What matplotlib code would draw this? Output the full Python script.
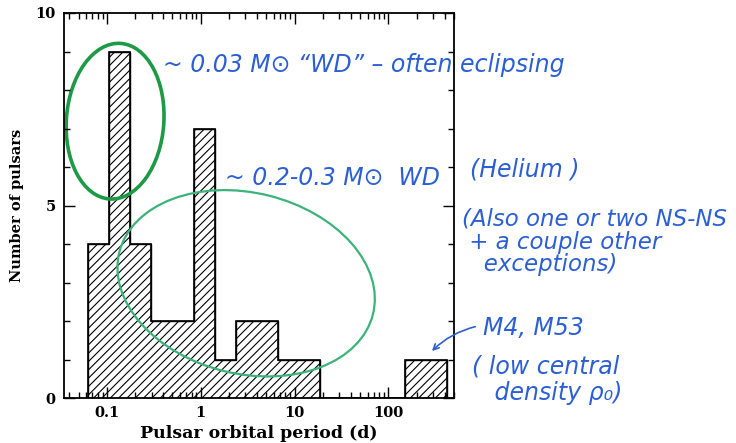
import numpy as np
import matplotlib.pyplot as plt
from matplotlib.patches import Ellipse
from matplotlib.ticker import LogLocator, NullFormatter, MultipleLocator, FixedLocator, FixedFormatter

# histogram (orbital period in days)
bin_edges = [0.063, 0.106, 0.178, 0.299, 0.84, 1.41, 2.37, 6.7, 18.8, 150, 422]
counts = [4, 9, 4, 2, 7, 1, 2, 1, 0, 1]

xticks = [0.1, 1, 10, 100]
xtick_labels = ["0.1", "1", "10", "100"]
yticks = [0, 5, 10]

W, H = 736, 443
plt.rcParams['hatch.linewidth'] = 0.8
fig = plt.figure(figsize=(W / 100, H / 100), dpi=100)
ax = fig.add_axes([64 / W, (H - 398) / H, 390 / W, 385 / H])

ax.stairs(counts, bin_edges, fill=True, facecolor="white", edgecolor="black",
          hatch="////", linewidth=1.0)
ax.stairs(counts, bin_edges, fill=False, edgecolor="black", linewidth=1.2)

ax.set_xscale("log")
ax.set_xlim(0.035, 500)
ax.set_ylim(0, 10)

ax.xaxis.set_major_locator(FixedLocator(xticks))
ax.xaxis.set_major_formatter(FixedFormatter(xtick_labels))
ax.xaxis.set_minor_locator(LogLocator(base=10, subs=np.arange(2, 10)))
ax.xaxis.set_minor_formatter(NullFormatter())
ax.yaxis.set_major_locator(FixedLocator(yticks))
ax.yaxis.set_minor_locator(MultipleLocator(1))

labfont = dict(family="DejaVu Serif", weight="bold", size=10.5)
ax.tick_params(which="both", direction="in", top=True, right=True, width=1.0)
ax.tick_params(which="major", length=8, pad=6)
ax.tick_params(which="minor", length=4)
for lab in ax.get_xticklabels() + ax.get_yticklabels():
    lab.set_fontfamily("DejaVu Serif")
    lab.set_fontweight("bold")
    lab.set_fontsize(10.5)
for sp in ax.spines.values():
    sp.set_linewidth(1.3)

ax.set_xlabel("Pulsar orbital period (d)", labelpad=3,
              family="DejaVu Serif", weight="bold", size=12.5)
ax.set_ylabel("Number of pulsars", labelpad=8, **labfont)

# hand-drawn annotations
dark_green = "#1d9a45"
light_green = "#3bb37a"
ink = "#2b5fd3"

ax.add_patch(Ellipse((0.131, 0.719), 0.25, 0.405, angle=-4, transform=ax.transAxes,
                     fill=False, edgecolor=dark_green, linewidth=2.6, clip_on=False))
ax.add_patch(Ellipse((0.467, 0.298), 0.67, 0.47, angle=-14, transform=ax.transAxes,
                     fill=False, edgecolor=light_green, linewidth=1.6, clip_on=False))

hand = dict(family="DejaVu Sans", style="italic", color=ink, size=17)


def note(x, y, s, **kw):
    opts = dict(hand)
    opts.update(kw)
    fig.text(x / W, 1 - y / H, s, va="center", ha="left", **opts)


note(163, 65, "~ 0.03 M\u2299 \u201cWD\u201d \u2013 often eclipsing")
note(225, 178, "~ 0.2-0.3 M\u2299  WD")
note(470, 169, "(Helium )")
note(462, 242, "(Also one or two NS-NS\n + a couple other\n   exceptions)", linespacing=0.98, size=16.5)
note(483, 328, "M4, M53")
note(472, 380, "( low central\n   density \u03c1\u2080)", linespacing=1.15)

ax.annotate("", xy=(430 / W, 1 - 353 / H), xycoords="figure fraction",
            xytext=(478 / W, 1 - 326 / H), textcoords="figure fraction",
            arrowprops=dict(arrowstyle="->", color=ink, lw=1.2,
                            connectionstyle="arc3,rad=0.15"))

fig.savefig("out.png", dpi=100)
